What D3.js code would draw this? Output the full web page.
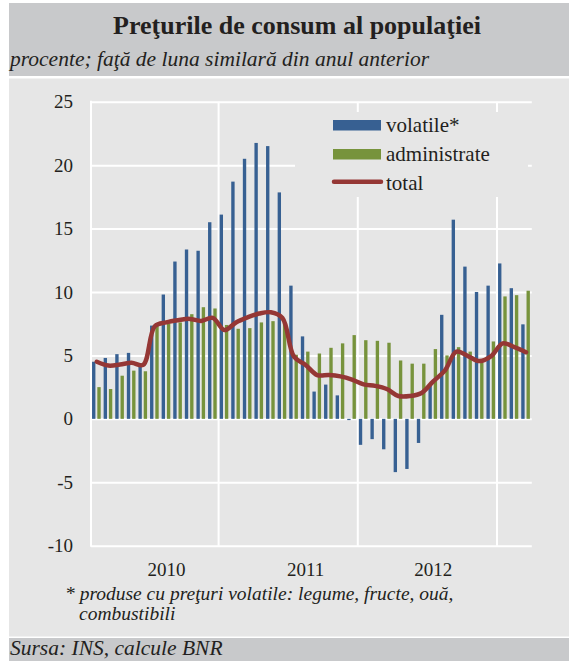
<!DOCTYPE html>
<html>
<head>
<meta charset="utf-8">
<script src="https://cdn.jsdelivr.net/npm/d3@7"></script>
<style>
  html, body { margin: 0; padding: 0; background: #ffffff; }
  svg { display: block; }
  svg text { font-family: "Liberation Serif", "Times New Roman", serif; }
</style>
</head>
<body>
<svg id="chart" width="569" height="661"></svg>
<script>
// luni: feb 2010 - mar 2013
const months = [
  "feb 2010", "mar 2010", "apr 2010", "mai 2010", "iun 2010", "iul 2010", "aug 2010", "sep 2010", "oct 2010", "noi 2010", "dec 2010",
  "ian 2011", "feb 2011", "mar 2011", "apr 2011", "mai 2011", "iun 2011", "iul 2011", "aug 2011", "sep 2011", "oct 2011", "noi 2011", "dec 2011",
  "ian 2012", "feb 2012", "mar 2012", "apr 2012", "mai 2012", "iun 2012", "iul 2012", "aug 2012", "sep 2012", "oct 2012", "noi 2012", "dec 2012",
  "ian 2013", "feb 2013", "mar 2013"
];

const volatileVals = [
  4.5, 4.8, 5.1, 5.2, 4.4, 7.35, 9.8, 12.4, 13.35, 13.25, 15.5,
  16.1, 18.7, 20.5, 21.75, 21.5, 17.85, 10.5, 6.5, 2.15, 2.7, 1.85, -0.1,
  -2.05, -1.6, -2.4, -4.2, -3.95, -1.9, 2.6, 8.2, 15.7, 12.0, 10.0, 10.5,
  12.25, 10.3, 7.45
];

const administrateVals = [
  2.5, 2.35, 3.4, 3.8, 3.75, 7.4, 7.5, 7.6, 8.25, 8.8, 8.7,
  7.4, 7.1, 7.15, 7.6, 7.7, 7.6, 5.05, 5.3, 5.15, 5.6, 5.95, 6.6,
  6.2, 6.15, 6.0, 4.6, 4.35, 4.35, 5.5, 5.0, 5.65, 5.3, 4.4, 6.1,
  9.65, 9.75, 10.1
];

const totalVals = [
  4.5, 4.2, 4.28, 4.42, 4.25, 7.3, 7.6, 7.77, 7.88, 7.72, 7.96,
  7.0, 7.6, 8.0, 8.3, 8.4, 7.95, 4.9, 4.25, 3.45, 3.45, 3.35, 3.1,
  2.72, 2.6, 2.35, 1.8, 1.8, 2.04, 2.95, 3.8, 5.3, 4.95, 4.55, 4.95,
  5.95, 5.65, 5.25
];

const yTicks = [-10, -5, 0, 5, 10, 15, 20, 25];
const yearLabels = ["2010", "2011", "2012"];
const yearLabelMonth = ["aug 2010", "aug 2011", "iul 2012"];
const yearStarts = ["ian 2011", "ian 2012", "ian 2013"];

const seriesNames = ["volatile*", "administrate", "total"];

const serif = "Liberation Serif";
const ink = "#231f20";

const svg = d3.select("#chart");

// fundaluri
svg.append("rect").attr("x", 9).attr("y", 3).attr("width", 560).attr("height", 73).attr("fill", "#c8c9cb");
svg.append("rect").attr("x", 9).attr("y", 78.5).attr("width", 560).attr("height", 558).attr("fill", "#e6e6e6");
svg.append("rect").attr("x", 9).attr("y", 638).attr("width", 560).attr("height", 23).attr("fill", "#c8c9cb");

svg.append("text")
  .attr("x", 297).attr("y", 34)
  .attr("text-anchor", "middle")
  .attr("font-family", serif)
  .attr("font-size", 26).attr("font-weight", "bold").attr("fill", ink)
  .text("Preţurile de consum al populaţiei");

svg.append("text")
  .attr("x", 10).attr("y", 66)
  .attr("font-family", serif)
  .attr("font-size", 21.5).attr("font-style", "italic").attr("fill", ink)
  .text("procente; faţă de luna similară din anul anterior");

const plotLeft = 91, plotRight = 531.8, plotTop = 101.7, plotBottom = 545.7;

const x = d3.scaleBand().domain(months).range([plotLeft, plotRight]).padding(0);
const bw = x.bandwidth();
const y = d3.scaleLinear().domain([-10, 25]).range([plotBottom, plotTop]);

// grila orizontala
svg.append("g")
  .attr("transform", "translate(" + plotLeft + ",0)")
  .call(d3.axisLeft(y).tickValues(yTicks).tickSize(-(plotRight - plotLeft)).tickFormat(""))
  .call(g => g.select(".domain").remove())
  .selectAll("line")
  .attr("stroke", "#ffffff")
  .attr("stroke-width", 2);

// grila verticala (inceput de an)
svg.append("g")
  .selectAll("line")
  .data(yearStarts)
  .enter()
  .append("line")
  .attr("x1", d => x(d)).attr("x2", d => x(d))
  .attr("y1", plotTop).attr("y2", plotBottom)
  .attr("stroke", "#ffffff").attr("stroke-width", 2);

svg.append("line")
  .attr("x1", plotLeft).attr("x2", plotLeft)
  .attr("y1", plotTop - 1).attr("y2", plotBottom + 1)
  .attr("stroke", "#ffffff").attr("stroke-width", 2);

// etichete axa y
svg.append("g")
  .attr("transform", "translate(" + plotLeft + ",0)")
  .call(d3.axisLeft(y).tickValues(yTicks).tickSize(0).tickPadding(18).tickFormat(d => String(d)))
  .call(g => g.select(".domain").remove())
  .attr("font-family", serif)
  .attr("font-size", 19)
  .selectAll("text")
  .attr("font-family", serif)
  .attr("fill", ink);

// etichete axa x
svg.append("g")
  .selectAll("text")
  .data(yearLabels)
  .enter()
  .append("text")
  .attr("x", (d, i) => x(yearLabelMonth[i]) + bw / 2)
  .attr("y", 576)
  .attr("text-anchor", "middle")
  .attr("font-family", serif)
  .attr("font-size", 19).attr("fill", ink)
  .text(d => d);

// coloane
const blueOff = bw * 0.09, greenOff = bw * 0.545, barW = bw * 0.29;

svg.append("g")
  .selectAll("rect")
  .data(volatileVals)
  .enter()
  .append("rect")
  .attr("x", (d, i) => x(months[i]) + blueOff)
  .attr("y", d => y(Math.max(0, d)))
  .attr("width", barW)
  .attr("height", d => Math.abs(y(d) - y(0)))
  .attr("fill", "#376092");

svg.append("g")
  .selectAll("rect")
  .data(administrateVals)
  .enter()
  .append("rect")
  .attr("x", (d, i) => x(months[i]) + greenOff)
  .attr("y", d => y(Math.max(0, d)))
  .attr("width", barW)
  .attr("height", d => Math.abs(y(d) - y(0)))
  .attr("fill", "#77933c");

// linia total
const line = d3.line()
  .x((d, i) => x(months[i]) + bw / 2)
  .y(d => y(d))
  .curve(d3.curveCatmullRom);

svg.append("path")
  .datum(totalVals)
  .attr("fill", "none")
  .attr("stroke", "#953735")
  .attr("stroke-width", 4.5)
  .attr("stroke-linejoin", "round")
  .attr("stroke-linecap", "round")
  .attr("d", line);

// legenda
const lg = svg.append("g");
lg.append("rect").attr("x", 295).attr("y", 112).attr("width", 233).attr("height", 85).attr("fill", "#e6e6e6");
lg.append("rect").attr("x", 333).attr("y", 120).attr("width", 48).attr("height", 10.5).attr("fill", "#376092");
lg.append("rect").attr("x", 333).attr("y", 149).attr("width", 48).attr("height", 10.5).attr("fill", "#77933c");
lg.append("line").attr("x1", 334).attr("x2", 381).attr("y1", 181.7).attr("y2", 181.7)
  .attr("stroke", "#953735").attr("stroke-width", 4.5).attr("stroke-linecap", "round");
lg.selectAll("text.leg")
  .data(seriesNames)
  .enter()
  .append("text")
  .attr("class", "leg")
  .attr("x", 386)
  .attr("y", (d, i) => 131.5 + i * 29)
  .attr("font-family", serif)
  .attr("font-size", 21).attr("fill", ink)
  .text(d => d);

// nota
svg.append("text")
  .attr("x", 65).attr("y", 600)
  .attr("font-family", serif)
  .attr("font-size", 19.5).attr("font-style", "italic").attr("fill", ink)
  .text("* produse cu preţuri volatile: legume, fructe, ouă,");
svg.append("text")
  .attr("x", 79).attr("y", 620)
  .attr("font-family", serif)
  .attr("font-size", 19.5).attr("font-style", "italic").attr("fill", ink)
  .text("combustibili");

svg.append("text")
  .attr("x", 10).attr("y", 655)
  .attr("font-family", serif)
  .attr("font-size", 21.5).attr("font-style", "italic").attr("fill", ink)
  .text("Sursa: INS, calcule BNR");
</script>
</body>
</html>
